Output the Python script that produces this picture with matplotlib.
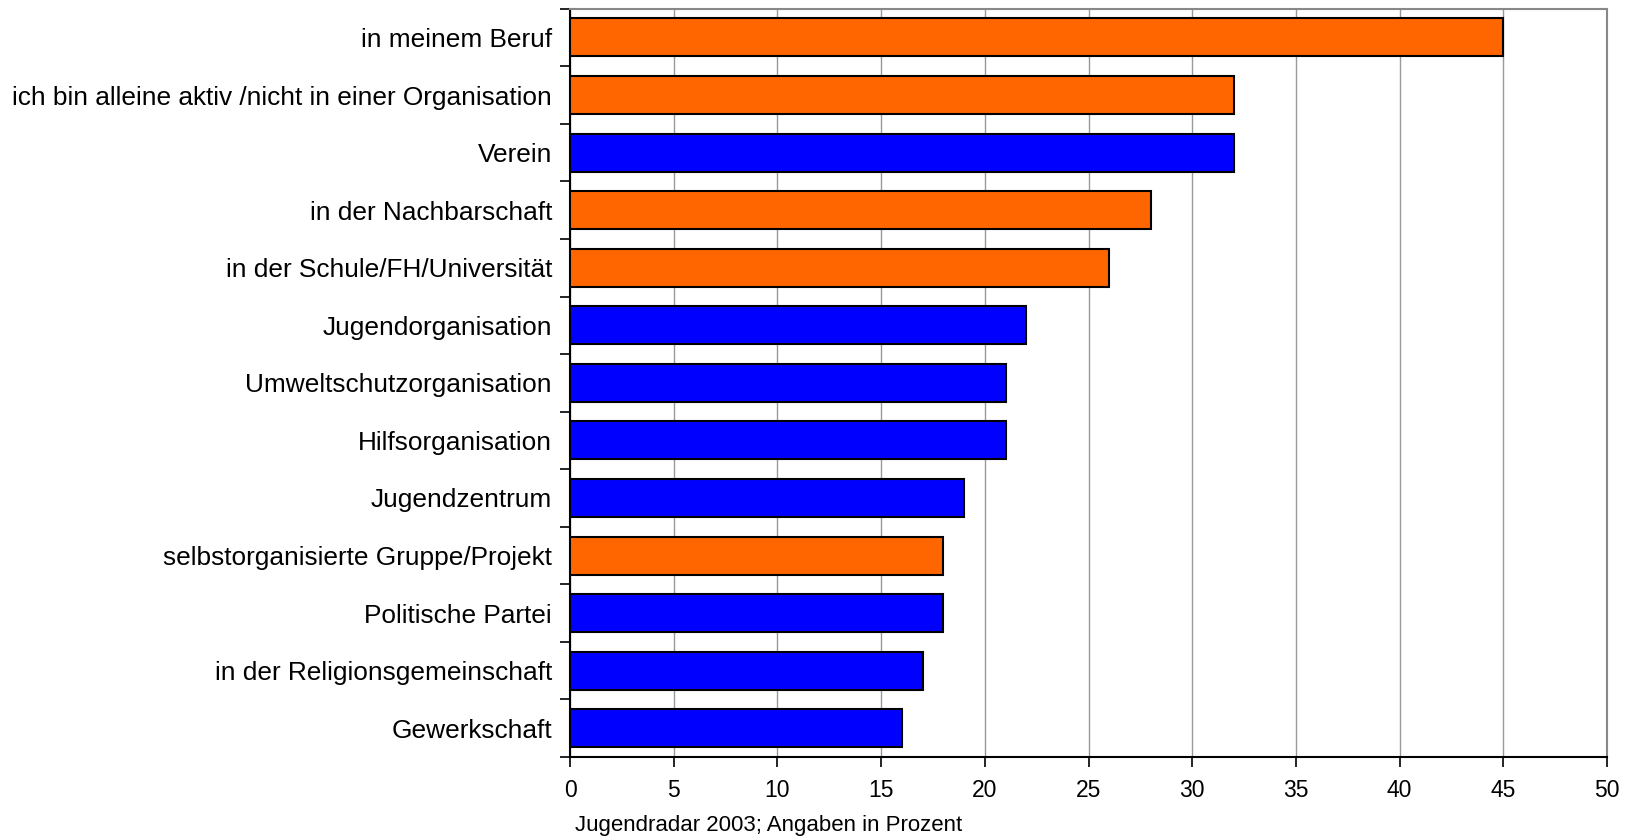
import numpy as np
import matplotlib.pyplot as plt

plt.rcParams['font.family'] = ['Liberation Sans', 'DejaVu Sans']

labels = ["in meinem Beruf",
          "ich bin alleine aktiv /nicht in einer Organisation",
          "Verein",
          "in der Nachbarschaft",
          "in der Schule/FH/Universität",
          "Jugendorganisation",
          "Umweltschutzorganisation",
          "Hilfsorganisation",
          "Jugendzentrum",
          "selbstorganisierte Gruppe/Projekt",
          "Politische Partei",
          "in der Religionsgemeinschaft",
          "Gewerkschaft"]
values = [45, 32, 32, 28, 26, 22, 21, 21, 19, 18, 18, 17, 16]
groups = ["o", "o", "b", "o", "o", "b", "b", "b", "b", "o", "b", "b", "b"]
xticks = [0, 5, 10, 15, 20, 25, 30, 35, 40, 45, 50]
caption = "Jugendradar 2003; Angaben in Prozent"

colmap = {"o": "#FF6600", "b": "#0000FF"}
colors = [colmap[g] for g in groups]

fig = plt.figure(figsize=(16.3, 8.36), dpi=100)
ax = fig.add_axes([0.3497, 0.0945, 0.6362, 0.8951])

y = np.arange(len(labels))
ax.barh(y, values, height=0.66, color=colors, edgecolor="black", linewidth=1.5, zorder=3)

ax.set_ylim(len(labels) - 0.5, -0.5)
ax.set_xlim(0, 50)
ax.set_xticks(xticks)
ax.set_xticklabels([str(t) for t in xticks], fontsize=16.5)
ax.set_yticks(y)
ax.set_yticklabels(labels, fontsize=18.9)
ax.tick_params(axis="y", length=0, pad=13)
ax.set_yticks(np.arange(len(labels) + 1) - 0.5, minor=True)
ax.tick_params(axis="y", which="minor", length=7, width=1.2, direction="out")
ax.tick_params(axis="x", length=7, width=1.2, direction="out", pad=9)

ax.grid(axis="x", color="#999999", linewidth=1.0, zorder=0)
for s in ["top", "right"]:
    ax.spines[s].set_color("#888888")
    ax.spines[s].set_linewidth(1.5)
for s in ["left", "bottom"]:
    ax.spines[s].set_color("black")
    ax.spines[s].set_linewidth(1.5)

fig.text(575 / 1630, 1 - 826 / 836, caption, fontsize=16, ha="left", va="center")

fig.savefig("out.png", dpi=100)
